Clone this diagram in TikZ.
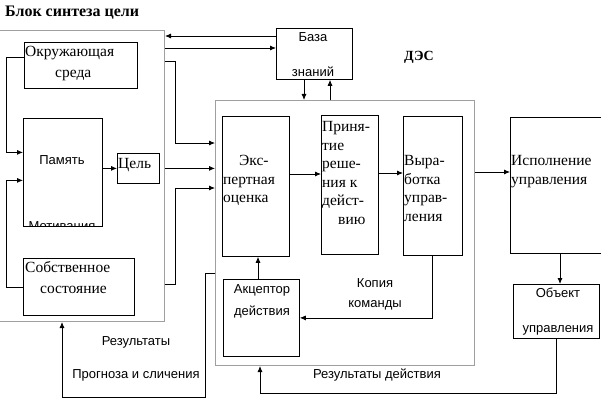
\documentclass[tikz,border=0pt]{standalone}
\usepackage{fontspec}
\setmainfont{Liberation Serif}
\newfontfamily\sanscyr{Liberation Sans}
\usetikzlibrary{arrows.meta,positioning,calc}

\begin{document}
\begin{tikzpicture}[
    x=1pt, y=-1pt,
    box/.style={draw, line width=0.8pt, anchor=north west, inner sep=0pt},
    graybox/.style={draw=gray!75, line width=1pt, anchor=north west, inner sep=0pt},
    serif/.style={font=\fontsize{15.5}{18.5}\selectfont, inner sep=0pt, align=left},
    sans/.style={font=\sanscyr\fontsize{13}{15}\selectfont, inner sep=0pt, align=center},
    arrow/.style={-{Latex[length=6pt,width=5pt]}, line width=0.8pt},
    line/.style={line width=0.8pt}
]
\useasboundingbox (0,0) rectangle (601,401);

% Outer blocks
\node[graybox, minimum width=166pt, minimum height=291pt] (sintez) at (-2,30) {};
\node[graybox, minimum width=259pt, minimum height=265pt] (des) at (215,100) {};

% Goal synthesis block
\node[box, minimum width=113pt, minimum height=46pt] (env) at (24,42) {};
\node[box, minimum width=79pt, minimum height=108pt] (pam) at (23,118) {};
\node[box, minimum width=42pt, minimum height=30pt] (goal) at (117,153) {};
\node[box, minimum width=111pt, minimum height=57pt] (own) at (23,258) {};

% Expert system
\node[box, minimum width=76pt, minimum height=51pt] (kb) at (276,28) {};
\node[box, minimum width=67pt, minimum height=140pt] (expert) at (222,116) {};
\node[box, minimum width=57pt, minimum height=139pt] (decide) at (321,115) {};
\node[box, minimum width=59pt, minimum height=139pt] (ctrl) at (403,116) {};
\node[box, minimum width=76pt, minimum height=77pt] (accept) at (223,279) {};

% Execution
\node[box, minimum width=105pt, minimum height=136pt] (exec) at (510,117) {};
\node[box, minimum width=86pt, minimum height=54pt] (obj) at (513,284) {};

% Texts
\node[font=\bfseries\fontsize{16}{18}\selectfont, anchor=base west, inner sep=0pt] (title) at (5,17) {Блок синтеза цели};
\node[font=\bfseries\fontsize{14}{18}\selectfont, anchor=base, inner sep=0pt] (deslabel) at (419,61) {ДЭС};
\node[serif, anchor=north west] (envtext) at (25,46.5) {Окружающая\\[2.5pt]\hspace*{30pt}среда};
\node[sans, anchor=base] (pamtext) at (62,164) {Память};
\begin{scope}
  \clip (pam.south west) rectangle (pam.north east);
  \node[sans, anchor=base] (motiv) at (62,230) {Мотивация};
\end{scope}
\node[serif, anchor=base west] (goaltext) at (118,168) {Цель};
\node[serif, anchor=north west] (owntext) at (25,261.5) {Собственное\\[2.5pt]\hspace*{15pt}состояние};
\node[sans, anchor=north] (kbtext) at (313,32) {База\\[20pt]знаний};
\node[serif, anchor=north west] (experttext) at (223,155.5) {\hspace*{16pt}Экс-\\пертная\\оценка};
\node[serif, anchor=north west] (decidetext) at (322,121.5) {Приня-\\тие\\реше-\\ния к\\дейст-\\\hspace*{16pt}вию};
\node[serif, anchor=north west] (ctrltext) at (404,155.5) {Выра-\\ботка\\управ-\\ления};
\node[serif, anchor=north west] (exectext) at (511,155.5) {Исполнение\\управления};
\node[sans, anchor=north] (accepttext) at (262,284) {Акцептор\\[7pt]действия};
\node[sans, anchor=north] (copytext) at (375,278) {Копия\\[5pt]команды};
\node[sans, anchor=north] (objtext) at (558,288) {Объект\\[20pt]управления};
\node[sans, anchor=north] (restext) at (136,336) {Результаты\\[18pt]Прогноза и сличения};
\node[sans, anchor=base] (acttext) at (377,378) {Результаты действия};

% Connections inside the goal block
\draw[arrow] ([yshift=8pt]env.west) -- ++(-18,0) |- ([yshift=20pt]pam.west);
\draw[arrow] (own.west) -- ++(-17,0) |- ([yshift=-8pt]pam.west);
\draw[arrow] (pam.east |- goal.west) -- (goal.west);

% Goal block <-> knowledge base and expert system
\draw[arrow] (kb.west |- 0,36) -- (sintez.east |- 0,36);
\draw[arrow] (sintez.east |- 0,48) -- (kb.west |- 0,48);
\draw[arrow] (sintez.east |- 0,61) -- ++(10,0) |- (des.west |- 0,143);
\draw[arrow] (sintez.east |- goal.east) -- (des.west |- goal.east);
\draw[arrow] (sintez.east |- 0,284) -- ++(10,0) |- (des.west |- 0,188);
\draw[arrow] (kb.south -| 304,0) -- (des.north -| 304,0);
\draw[arrow] (des.north -| 330,0) -- (kb.south -| 330,0);

% Expert system
\draw[arrow] (expert.east |- 0,174) -- (decide.west |- 0,174);
\draw[arrow] (decide.east |- 0,173) -- (ctrl.west |- 0,173);
\draw[arrow] (accept.north -| 258,0) -- (expert.south -| 258,0);
\draw[arrow] (ctrl.south -| 432,0) |- (accept.east);

% Execution and feedback
\draw[arrow] (des.east |- 0,172) -- (exec.west |- 0,172);
\draw[arrow] (exec.south -| 560,0) -- (obj.north -| 560,0);
\draw[arrow] (obj.south -| 556,0) -- ++(0,55) -| (des.south -| 260,0);
\draw[arrow] (des.west |- 0,273) -- ++(-10,0) -- ++(0,124) -| (sintez.south -| 62,0);

\end{tikzpicture}
\end{document}
